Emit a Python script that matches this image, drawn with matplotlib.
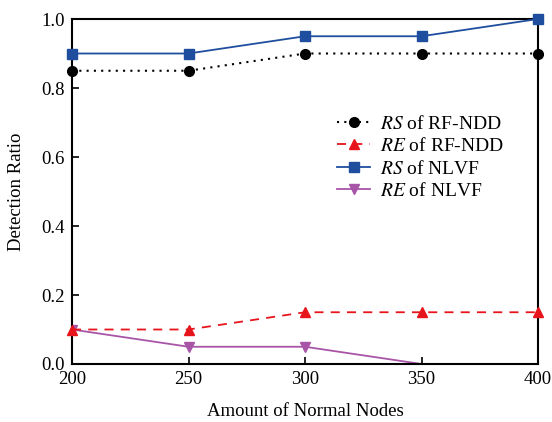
import matplotlib.pyplot as plt
import numpy as np

plt.rcParams['font.family'] = ['Liberation Serif', 'DejaVu Serif']
plt.rcParams['mathtext.fontset'] = 'stix'

# data
nodes = [200, 250, 300, 350, 400]
rs_rfndd = [0.85, 0.85, 0.90, 0.90, 0.90]
re_rfndd = [0.10, 0.10, 0.15, 0.15, 0.15]
rs_nlvf = [0.90, 0.90, 0.95, 0.95, 1.00]
re_nlvf = [0.10, 0.05, 0.05, 0.00, 0.00]

fig = plt.figure(figsize=(5.52, 4.22), dpi=100)
ax = fig.add_axes([72 / 552, 58 / 422, 466 / 552, 345 / 422])

ax.plot(nodes, rs_rfndd, color='black', linestyle=(0, (1, 2.5)), marker='o', markersize=7,
        linewidth=1.5, label='$\\it{RS}$ of RF-NDD', clip_on=False, zorder=3)
ax.plot(nodes, re_rfndd, color='#e8141c', linestyle=(0, (5, 4)), marker='^', markersize=7.5,
        linewidth=1.3, label='$\\it{RE}$ of RF-NDD', clip_on=False, zorder=3)
ax.plot(nodes, rs_nlvf, color='#1f4e9e', linestyle='-', marker='s', markersize=6.5,
        linewidth=1.3, label='$\\it{RS}$ of NLVF', clip_on=False, zorder=3)
ax.plot(nodes, re_nlvf, color='#a855a8', linestyle='-', marker='v', markersize=7.5,
        linewidth=1.3, label='$\\it{RE}$ of NLVF', markevery=[0, 1, 2], zorder=2)

ax.set_xlim(200, 400)
ax.set_ylim(0, 1.0)
ax.set_xticks(nodes)
ax.set_yticks(np.arange(0, 1.01, 0.2))
ax.yaxis.set_major_formatter(plt.FormatStrFormatter('%.1f'))
ax.tick_params(direction='in', length=5, width=1.2, labelsize=13.5, pad=5)
for s in ax.spines.values():
    s.set_linewidth(1.5)
    s.set_zorder(2.5)

ax.set_xlabel('Amount of Normal Nodes', fontsize=13.5, labelpad=11)
ax.set_ylabel('Detection Ratio', fontsize=13.5, labelpad=12)

ax.legend(loc='upper left', bbox_to_anchor=(337 / 552, 1 - 115 / 422), bbox_transform=fig.transFigure,
          frameon=False, fontsize=14, borderpad=0, borderaxespad=0,
          handlelength=1.7, handletextpad=0.5, labelspacing=0.22)

fig.savefig('out.png', dpi=100)
